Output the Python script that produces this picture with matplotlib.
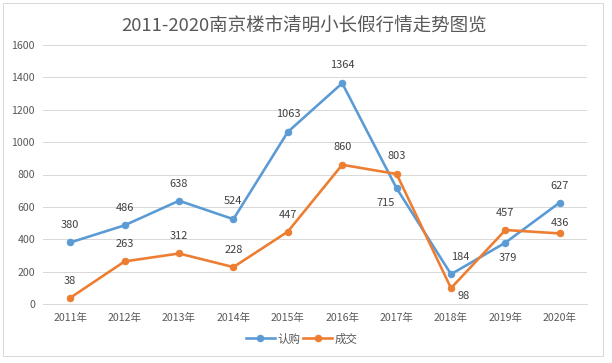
import matplotlib
matplotlib.use("Agg")
import matplotlib.pyplot as plt
from matplotlib.patches import Rectangle

plt.rcParams['font.family'] = ['Noto Sans CJK SC', 'DejaVu Sans']

# data
years = ['2011年', '2012年', '2013年', '2014年', '2015年',
         '2016年', '2017年', '2018年', '2019年', '2020年']
subscribed = [380, 486, 638, 524, 1063, 1364, 715, 184, 379, 627]   # 认购
closed = [38, 263, 312, 228, 447, 860, 803, 98, 457, 436]           # 成交

# label offsets in points (dpi=72, so points == pixels)
sub_offsets = [(0, 17), (0, 17), (0, 17), (0, 18), (0, 18),
               (0, 18), (-11, -15), (9, 17), (2, -15), (0, 17)]
clo_offsets = [(0, 17), (0, 17), (0, 17), (0, 17), (0, 17),
               (0, 18), (0, 18), (13, -8), (0, 17), (0, 10)]

BLUE = '#5B9BD5'
ORANGE = '#ED7D31'
TEXT = '#595959'

fig = plt.figure(figsize=(612 / 72, 363 / 72), dpi=72)
fig.patch.set_facecolor('white')

# chart area border
fig.patches.append(Rectangle((3 / 612, 7 / 363), 600 / 612, 353 / 363,
                             transform=fig.transFigure, fill=False,
                             edgecolor='#D9D9D9', linewidth=1))

ax = fig.add_axes([43 / 612, 59 / 363, 544 / 612, 259 / 363])
x = list(range(len(years)))

ax.plot(x, subscribed, color=BLUE, lw=2.6, marker='o', ms=6.5, label='认购',
        solid_joinstyle='round', zorder=3)
ax.plot(x, closed, color=ORANGE, lw=2.6, marker='o', ms=6.5, label='成交',
        solid_joinstyle='round', zorder=3)

for xi, v, off in zip(x, subscribed, sub_offsets):
    ax.annotate(str(v), (xi, v), xytext=off, textcoords='offset points',
                ha='center', va='center', fontsize=11, color='#404040')
for xi, v, off in zip(x, closed, clo_offsets):
    ax.annotate(str(v), (xi, v), xytext=off, textcoords='offset points',
                ha='center', va='center', fontsize=11, color='#404040')

ax.set_xlim(-0.5, len(years) - 0.5)
ax.set_ylim(0, 1600)
ax.set_yticks(range(0, 1601, 200))
ax.set_xticks(x)
ax.set_xticklabels(years)
ax.tick_params(length=0, labelsize=10.5, colors=TEXT)
ax.tick_params(axis='y', pad=8)
ax.tick_params(axis='x', pad=9)
ax.grid(axis='y', color='#D9D9D9', lw=1)
ax.set_axisbelow(True)
for s in ['top', 'right', 'left']:
    ax.spines[s].set_visible(False)
ax.spines['bottom'].set_color('#D9D9D9')
ax.spines['bottom'].set_linewidth(1)

fig.text(304 / 612, 1 - 26 / 363, '2011-2020南京楼市清明小长假行情走势图览',
         ha='center', va='center', fontsize=18.5, color=TEXT)

fig.legend(loc='center', bbox_to_anchor=(302 / 612, 1 - 339 / 363), ncol=2,
           frameon=False, fontsize=11.5, handlelength=2.5, columnspacing=0.25,
           handletextpad=0.25, labelcolor=TEXT)

fig.savefig('out.png', dpi=72)
